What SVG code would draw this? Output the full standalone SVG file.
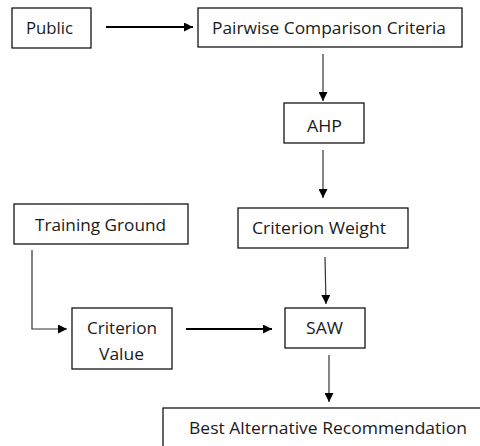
<svg xmlns="http://www.w3.org/2000/svg" width="480" height="446" viewBox="0 0 480 446">
<style>
.box{fill:#fff;stroke:#000;stroke-width:1.2}
.lbl{font-family:"Open Sans","Liberation Sans",sans-serif;font-size:17px;fill:#1a1a1a}
.ln{stroke:#333;stroke-width:1.2;fill:none}
.ln2{stroke:#000;stroke-width:1.8;fill:none}
</style>
<defs>
<marker id="ah" viewBox="0 0 10 10" refX="10" refY="5" markerWidth="9" markerHeight="9" markerUnits="userSpaceOnUse" orient="auto">
<path d="M0,0 L10,5 L0,10 Z" fill="#000"/>
</marker>
</defs>
<rect width="480" height="446" fill="#fff"/>
<g id="public"><rect class="box" x="12" y="8" width="79" height="40"/><text class="lbl" x="26" y="34" textLength="47" lengthAdjust="spacingAndGlyphs">Public</text></g>
<g id="pairwise"><rect class="box" x="198" y="8" width="264" height="39"/><text class="lbl" x="212" y="34" textLength="234" lengthAdjust="spacingAndGlyphs">Pairwise Comparison Criteria</text></g>
<g id="ahp"><rect class="box" x="284" y="103" width="80" height="40"/><text class="lbl" x="307" y="132" textLength="35" lengthAdjust="spacingAndGlyphs">AHP</text></g>
<g id="training"><rect class="box" x="14" y="204" width="174" height="40"/><text class="lbl" x="35" y="231" textLength="131" lengthAdjust="spacingAndGlyphs">Training Ground</text></g>
<g id="weight"><rect class="box" x="238" y="208" width="170" height="40"/><text class="lbl" x="252" y="234" textLength="134" lengthAdjust="spacingAndGlyphs">Criterion Weight</text></g>
<g id="value"><rect class="box" x="72" y="308" width="100" height="61"/><text class="lbl" x="87" y="334" textLength="70" lengthAdjust="spacingAndGlyphs">Criterion</text><text class="lbl" x="99" y="360" textLength="45" lengthAdjust="spacingAndGlyphs">Value</text></g>
<g id="saw"><rect class="box" x="285" y="308" width="80" height="40"/><text class="lbl" x="306" y="334" textLength="37" lengthAdjust="spacingAndGlyphs">SAW</text></g>
<g id="best"><rect class="box" x="163" y="408" width="330" height="50"/><text class="lbl" x="189" y="434" textLength="278" lengthAdjust="spacingAndGlyphs">Best Alternative Recommendation</text></g>
<g id="connectors">
<line class="ln2" x1="106" y1="27" x2="193" y2="27" marker-end="url(#ah)"/>
<line class="ln" x1="323" y1="54" x2="323" y2="101" marker-end="url(#ah)"/>
<line class="ln" x1="323" y1="150" x2="323" y2="198" marker-end="url(#ah)"/>
<line class="ln" x1="325" y1="257" x2="326" y2="304" marker-end="url(#ah)"/>
<polyline class="ln" points="32,250 32,329 67,329" marker-end="url(#ah)"/>
<line class="ln2" x1="186" y1="329" x2="272" y2="329" marker-end="url(#ah)"/>
<line class="ln" x1="329" y1="355" x2="329" y2="402" marker-end="url(#ah)"/>
</g>
</svg>
